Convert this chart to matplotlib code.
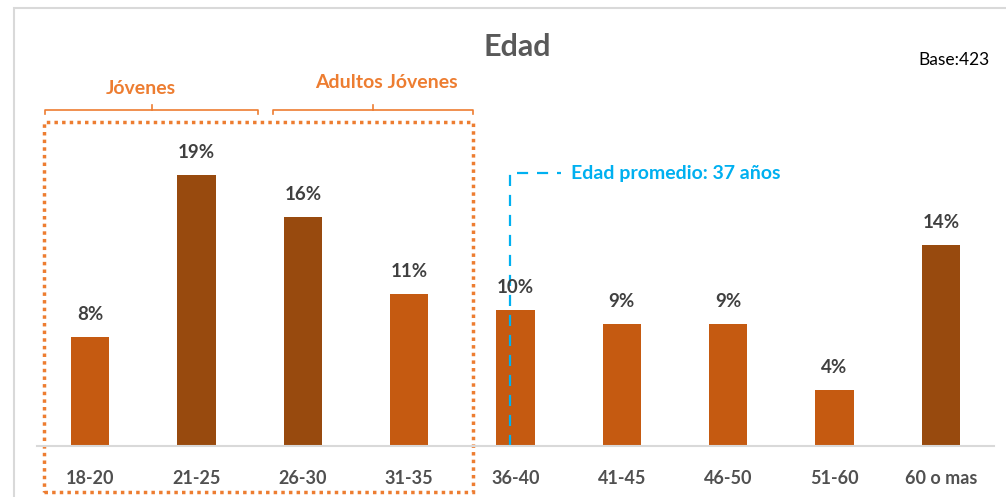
import matplotlib.pyplot as plt
from matplotlib.patches import Rectangle

# datos
categorias = ['18-20', '21-25', '26-30', '31-35', '36-40', '41-45', '46-50', '51-60', '60 o mas']
porcentajes = [7.8, 19.4, 16.4, 10.9, 9.7, 8.7, 8.7, 4.0, 14.4]
destacados = [False, True, True, False, False, False, False, False, True]
edad_promedio_x = 3.95

plt.rcParams['font.family'] = ['Lato', 'DejaVu Sans']

naranja = '#C55A11'
marron = '#984A0E'
naranja_claro = '#ED7D31'
azul = '#00B0F0'
gris = '#595959'

fig = plt.figure(figsize=(10.06, 4.97), dpi=100)
ax = fig.add_axes([37 / 1006, 51 / 497, 957 / 1006, 346 / 497])

# borde del grafico
fig.patches.append(Rectangle((14 / 1006, -0.1), 1.2, (489 + 50) / 497, transform=fig.transFigure,
                             fill=False, edgecolor='#D9D9D9', linewidth=1.5))

colores = [marron if d else naranja for d in destacados]
x = range(len(categorias))
barras = ax.bar(x, porcentajes, width=0.36, color=colores)
for b, v in zip(barras, porcentajes):
    ax.text(b.get_x() + b.get_width() / 2, v + 1.0, f'{round(v)}%', ha='center', va='bottom',
            fontsize=13.5, fontweight='bold', color='#404040')

ax.set_xlim(-0.5, 8.5)
ax.set_ylim(0, 24.75)
ax.set_xticks(list(x))
ax.set_xticklabels(categorias, fontsize=13, fontweight='bold', color='#505050')
ax.tick_params(axis='x', length=0, pad=17)
ax.set_yticks([])
for s in ['top', 'right', 'left']:
    ax.spines[s].set_visible(False)
ax.spines['bottom'].set_color('#D9D9D9')
ax.spines['bottom'].set_linewidth(1.5)

fig.text(517 / 1006, 1 - 47 / 497, 'Edad', ha='center', va='center', fontsize=22,
         fontweight='bold', color=gris)
fig.text(990 / 1006, 1 - 60 / 497, 'Base:423', ha='right', va='center', fontsize=12.5, color='black')

# llaves de grupos
def llave(x0, x1, y, texto, tx, ty):
    xm = (x0 + x1) / 2
    ax.plot([x0, x0, x1, x1], [y - 0.25, y, y, y - 0.25], color=naranja_claro, lw=1.2, clip_on=False)
    ax.plot([xm, xm], [y, y + 0.35], color=naranja_claro, lw=1.2, clip_on=False)
    ax.text(tx, ty, texto, ha='center', va='center', fontsize=14, fontweight='bold',
            color=naranja_claro, clip_on=False)

llave(-0.425, 1.58, 24.03, 'Jóvenes', 0.48, 25.6)
llave(1.72, 3.6, 24.03, 'Adultos Jóvenes', 2.79, 26.0)

# recuadro punteado
ax.add_patch(Rectangle((-0.434, -3.29), 4.034, 26.47, fill=False, edgecolor=naranja_claro,
                       linewidth=2.5, linestyle=(0, (1, 1.2)), clip_on=False))

# edad promedio
ax.plot([edad_promedio_x, edad_promedio_x, edad_promedio_x + 0.48], [0, 19.5, 19.5],
        color=azul, lw=1.6, linestyle=(0, (5, 4)), clip_on=False)
ax.text(edad_promedio_x + 0.57, 19.5, 'Edad promedio: 37 años', ha='left', va='center',
        fontsize=14, fontweight='bold', color=azul)

fig.savefig('out.png', dpi=100)
